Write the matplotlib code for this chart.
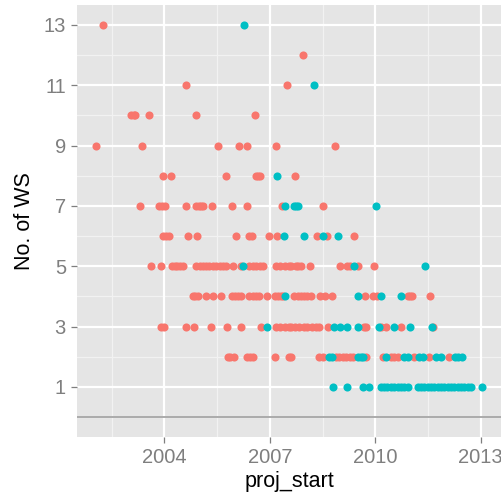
import matplotlib
matplotlib.use("Agg")
import matplotlib.pyplot as plt
import numpy as np

# ---- data ----
red_start = [
    2002.26,                                                      # 13
    2007.94,                                                      # 12
    2004.61, 2007.50,                                             # 11
    2003.05, 2003.12, 2003.17, 2003.57, 2004.91, 2006.57,         # 10
    2002.04, 2003.36, 2005.52, 2006.13, 2006.34, 2007.18, 2008.86,  # 9
    2003.97, 2004.19, 2005.76, 2006.60, 2006.66, 2006.71, 2007.73,  # 8
    2003.31, 2003.84, 2003.93, 2004.01, 2004.62, 2004.90, 2004.98, 2005.05,
    2005.11, 2005.35, 2005.93, 2006.35, 2007.36, 2008.50,         # 7
    2003.97, 2004.05, 2004.12, 2004.67, 2004.93, 2006.04, 2006.40, 2006.49,
    2006.98, 2007.21, 2008.33, 2008.64, 2009.41,                  # 6
    2003.62, 2003.91, 2004.22, 2004.29, 2004.37, 2004.45, 2004.52,
    2004.90, 2005.00, 2005.09, 2005.19, 2005.28, 2005.38, 2005.47, 2005.57,
    2005.66, 2005.74, 2005.95, 2006.17, 2006.42, 2006.52, 2006.61, 2006.71,
    2006.80, 2007.18, 2007.30, 2007.42, 2007.54, 2007.59, 2007.74, 2007.81,
    2007.88, 2008.14, 2008.99, 2009.21, 2009.28, 2009.52, 2009.96,  # 5
    2004.81, 2004.88, 2004.96, 2005.19, 2005.38, 2005.62, 2005.91, 2006.00,
    2006.09, 2006.19, 2006.42, 2006.52, 2006.61, 2006.69, 2006.92, 2007.16,
    2007.23, 2007.31, 2007.37, 2007.69, 2007.79, 2007.88, 2007.98, 2008.07,
    2008.17, 2008.42, 2008.57, 2008.76, 2009.70, 2009.94, 2010.04, 2010.92,
    2010.99, 2011.06, 2011.57,                                    # 4
    2003.90, 2004.00, 2004.60, 2004.83, 2005.33, 2005.78, 2006.19, 2006.76,
    2007.18, 2007.30, 2007.42, 2007.54, 2007.59, 2007.72, 2007.83, 2007.98,
    2008.07, 2008.21, 2008.31, 2008.40, 2008.66, 2009.69, 2009.75, 2010.16,
    2010.30, 2010.73, 2011.64,                                    # 3
    2005.81, 2005.88, 2005.97, 2006.35, 2006.43, 2006.52, 2007.16, 2007.55,
    2007.60, 2008.40, 2008.50, 2008.88, 2008.97, 2009.07, 2009.18, 2009.28,
    2009.37, 2009.75, 2010.23, 2010.45, 2010.54, 2010.64, 2011.11, 2011.52,
    2012.11,                                                      # 2
]
red_ws = ([13] + [12] + [11] * 2 + [10] * 6 + [9] * 7 + [8] * 7 + [7] * 14
          + [6] * 13 + [5] * 38 + [4] * 35 + [3] * 27 + [2] * 25)

teal_start = [
    2006.27,                                                      # 13
    2008.26,                                                      # 11
    2007.21,                                                      # 8
    2007.42, 2007.68, 2007.75, 2007.80, 2010.03,                  # 7
    2007.39, 2007.98, 2008.50, 2008.93,                           # 6
    2006.25, 2009.40, 2011.42,                                    # 5
    2007.44, 2009.50, 2010.17, 2010.73,                           # 4
    2006.92, 2008.83, 2008.99, 2009.21, 2009.50, 2010.10, 2010.54, 2010.99,
    2011.62,                                                      # 3
    2008.69, 2008.76, 2009.50, 2009.59, 2009.66, 2010.32, 2010.83, 2010.92,
    2011.25, 2011.35, 2011.73, 2011.87, 2012.27, 2012.37, 2012.47,  # 2
    2008.80, 2009.21, 2009.66, 2009.83, 2010.16, 2010.26, 2010.35, 2010.45,
    2010.54, 2010.64, 2010.73, 2010.83, 2010.92, 2011.21, 2011.30, 2011.40,
    2011.49, 2011.59, 2011.68, 2011.78, 2011.87, 2011.97, 2012.06, 2012.16,
    2012.25, 2012.35, 2012.44, 2012.54, 2012.63, 2012.73, 2013.03,  # 1
]
teal_ws = ([13] + [11] + [8] + [7] * 5 + [6] * 4 + [5] * 3 + [4] * 4
           + [3] * 9 + [2] * 15 + [1] * 31)

x_ticks = [2004, 2007, 2010, 2013]
x_minor = [2002.5, 2005.5, 2008.5, 2011.5]
y_ticks = [1, 3, 5, 7, 9, 11, 13]
y_minor = [0, 2, 4, 6, 8, 10, 12]

RED = "#F8766D"
TEAL = "#00BFC4"

fig = plt.figure(figsize=(5.02, 4.95), dpi=100)
ax = fig.add_axes([77 / 502, 58 / 495, 425 / 502, 432 / 495])
ax.set_facecolor("#E5E5E5")

for v in x_minor:
    ax.axvline(v, color="#F2F2F2", lw=0.9, zorder=0.5)
for v in y_minor:
    ax.axhline(v, color="#F2F2F2", lw=0.9, zorder=0.5)
for v in x_ticks:
    ax.axvline(v, color="white", lw=1.6, zorder=0.6)
for v in y_ticks:
    ax.axhline(v, color="white", lw=1.6, zorder=0.6)

ax.axhline(0, color="#ABABAB", lw=1.4, zorder=0.7)

ax.scatter(red_start, red_ws, s=34, color=RED, linewidths=0, zorder=2)
ax.scatter(teal_start, teal_ws, s=34, color=TEAL, linewidths=0, zorder=2)

ax.set_xlim(2001.51, 2013.61)
ax.set_ylim(-0.66, 13.66)
ax.set_xticks(x_ticks)
ax.set_xticklabels([str(t) for t in x_ticks])
ax.set_yticks(y_ticks)
ax.set_yticklabels([str(t) for t in y_ticks])

for s in ax.spines.values():
    s.set_visible(False)

ax.tick_params(axis="both", colors="#7F7F7F", labelcolor="#7F7F7F",
               length=4.5, width=0.9, labelsize=14.5, pad=3.5)
for lab in ax.get_xticklabels() + ax.get_yticklabels():
    lab.set_family("Liberation Sans")

ax.set_xlabel("proj_start", fontsize=15.5, family="Liberation Sans", labelpad=3)
ax.set_ylabel("No. of WS", fontsize=15.5, family="Liberation Sans", labelpad=6)

fig.savefig("out.png", dpi=100)
